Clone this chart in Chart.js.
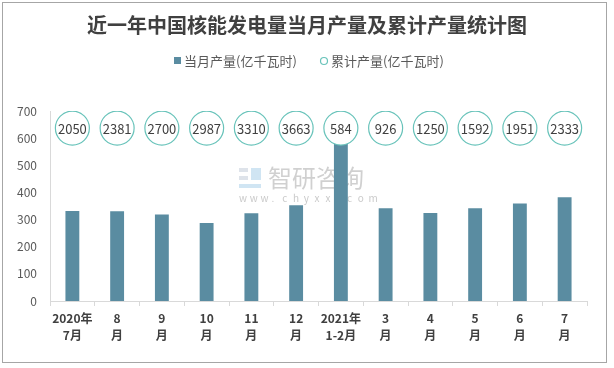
<!DOCTYPE html>
<html>
<head>
<meta charset="utf-8">
<script src="https://cdn.jsdelivr.net/npm/chart.js@4/dist/chart.umd.min.js"></script>
<style>
  html, body { margin: 0; padding: 0; background: #fff; }
  #wrap { width: 614px; height: 368px; position: relative; }
</style>
</head>
<body>
<div id="wrap"><canvas id="nuclearChart" width="614" height="368"></canvas></div>
<script>
// 月份标签
const months = [
    ['2020年', '7月'], ['8', '月'], ['9', '月'], ['10', '月'], ['11', '月'], ['12', '月'],
    ['2021年', '1-2月'], ['3', '月'], ['4', '月'], ['5', '月'], ['6', '月'], ['7', '月']
];
// 当月产量(亿千瓦时)
const monthlyOutput = [332, 331, 319, 287, 323, 353, 584, 342, 324, 342, 359, 382];
// 累计产量(亿千瓦时)
const cumulativeOutput = [2050, 2381, 2700, 2987, 3310, 3663, 584, 926, 1250, 1592, 1951, 2333];
// y 轴刻度
const yTicks = [0, 100, 200, 300, 400, 500, 600, 700];
// 累计产量圆圈所在的行
const circleRow = 637;

const FONT = '"Noto Sans CJK SC", "Noto Sans", sans-serif';
const barColor = '#5a8ca1';
const circleColor = '#68c3ba';

// 标题、图例、水印、边框
const decorPlugin = {
    id: 'decor',
    beforeDatasetsDraw(chart) {
        const ctx = chart.ctx;
        ctx.save();
        // 水印
        ctx.fillStyle = 'rgba(160, 175, 195, 0.35)';
        ctx.fillRect(239, 168, 9, 4);
        ctx.fillRect(239, 176, 9, 4);
        ctx.fillStyle = 'rgba(120, 180, 220, 0.35)';
        ctx.fillRect(251, 168, 10, 12);
        ctx.fillRect(239, 184, 22, 4);
        ctx.fillStyle = 'rgba(150, 150, 150, 0.45)';
        ctx.font = '24px ' + FONT;
        ctx.textAlign = 'left';
        ctx.textBaseline = 'middle';
        ctx.fillText('智研咨询', 268, 178);
        ctx.font = '10px ' + FONT;
        ctx.fillStyle = 'rgba(150, 150, 150, 0.5)';
        const site = 'www.chyxx.com';
        for (let i = 0; i < site.length; i++) {
            ctx.fillText(site[i], 239 + i * 10.8, 198);
        }
        ctx.restore();
    },
    afterDraw(chart) {
        const ctx = chart.ctx;
        ctx.save();
        // 边框
        ctx.strokeStyle = '#a6a6a6';
        ctx.lineWidth = 1;
        ctx.strokeRect(2.5, 2.5, 604, 360);
        // 标题
        ctx.fillStyle = '#404040';
        ctx.font = 'bold 20px ' + FONT;
        ctx.textAlign = 'center';
        ctx.textBaseline = 'middle';
        ctx.fillText('近一年中国核能发电量当月产量及累计产量统计图', 307, 25);
        // 图例
        ctx.font = '13px ' + FONT;
        ctx.textAlign = 'left';
        ctx.fillStyle = barColor;
        ctx.fillRect(174, 57, 7, 7);
        ctx.fillStyle = '#595959';
        ctx.fillText(chart.data.datasets[0].label, 184, 61);
        ctx.beginPath();
        ctx.arc(324, 61, 3.5, 0, Math.PI * 2);
        ctx.strokeStyle = circleColor;
        ctx.lineWidth = 1.2;
        ctx.stroke();
        ctx.fillText(chart.data.datasets[1].label, 331, 61);
        // 圆圈内的累计产量
        const meta = chart.getDatasetMeta(1);
        ctx.font = '13px ' + FONT;
        ctx.textAlign = 'center';
        ctx.fillStyle = '#404040';
        meta.data.forEach((pt, i) => {
            ctx.fillText(String(cumulativeOutput[i]), pt.x, pt.y + 1);
        });
        ctx.restore();
    }
};

const canvas = document.getElementById('nuclearChart');
new Chart(canvas.getContext('2d'), {
    type: 'bar',
    data: {
        labels: months,
        datasets: [{
            label: '当月产量(亿千瓦时)',
            data: monthlyOutput,
            backgroundColor: barColor,
            categoryPercentage: 1,
            barPercentage: 0.31,
            order: 2
        }, {
            type: 'line',
            label: '累计产量(亿千瓦时)',
            data: cumulativeOutput.map(() => circleRow),
            showLine: false,
            pointRadius: 17,
            pointHoverRadius: 17,
            pointBorderWidth: 1.2,
            pointBorderColor: circleColor,
            pointBackgroundColor: '#ffffff',
            order: 1
        }]
    },
    options: {
        responsive: false,
        animation: false,
        events: [],
        layout: { padding: { top: 111, right: 27, left: 0, bottom: 0 } },
        scales: {
            x: {
                grid: {
                    display: true,
                    drawOnChartArea: false,
                    drawTicks: true,
                    tickLength: 5,
                    color: '#d9d9d9',
                    offset: true
                },
                border: { color: '#d9d9d9' },
                ticks: {
                    color: '#404040',
                    font: { family: FONT, size: 12, weight: 'bold', lineHeight: 1.4 },
                    padding: 4,
                    maxRotation: 0,
                    autoSkip: false
                },
                afterFit: s => { s.height = 67; }
            },
            y: {
                min: 0,
                max: 700,
                afterBuildTicks: s => { s.ticks = yTicks.map(v => ({ value: v })); },
                grid: { display: false, drawTicks: false },
                border: { color: '#d9d9d9' },
                ticks: {
                    color: '#595959',
                    font: { family: FONT, size: 12 },
                    padding: 13
                },
                afterFit: s => { s.width = 50; }
            }
        },
        plugins: {
            legend: { display: false },
            title: { display: false },
            tooltip: { enabled: false }
        }
    },
    plugins: [decorPlugin]
});
</script>
</body>
</html>
